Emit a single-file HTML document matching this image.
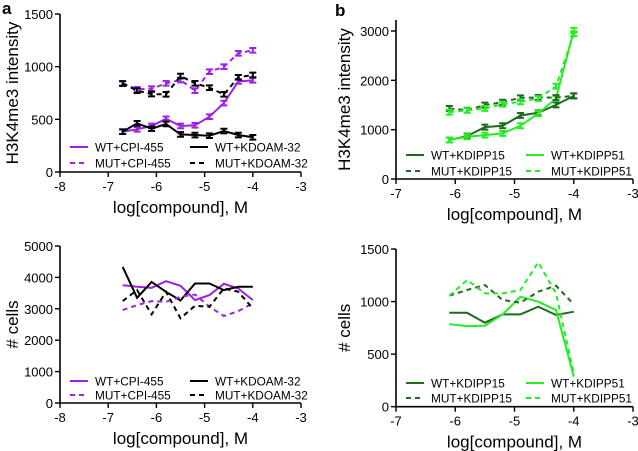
<!DOCTYPE html>
<html><head><meta charset="utf-8"><style>
body{margin:0;background:#fff;}
svg{display:block;font-family:"Liberation Sans",Arial,sans-serif;}
</style></head><body>
<svg id="fig" width="638" height="451" viewBox="0 0 638 451" xmlns="http://www.w3.org/2000/svg">
<text x="2" y="14" font-size="17" font-weight="bold">a</text>
<text x="335" y="16" font-size="17" font-weight="bold">b</text>
</svg>
<script>
// ---- data ----
const xA = [-6.7,-6.4,-6.1,-5.8,-5.5,-5.2,-4.9,-4.6,-4.3,-4.0];
const xB = [-6.1,-5.8,-5.5,-5.2,-4.9,-4.6,-4.3,-4.0];
const xTicksA = [-8,-7,-6,-5,-4,-3];
const xTicksB = [-7,-6,-5,-4,-3];
const yTicksA1 = [0,500,1000,1500];
const yTicksB1 = [0,1000,2000,3000];
const yTicksA2 = [0,1000,2000,3000,4000,5000];
const yTicksB2 = [0,500,1000,1500];
const a1WtCpi = [383,405,437,505,437,443,525,655,860,870];
const a1MutCpi = [842,785,791,842,873,772,952,1000,1127,1155];
const a1WtKd = [383,462,411,456,357,351,345,389,351,329];
const a1MutKd = [840,772,740,737,911,842,800,737,899,921];
const b1WtK15 = [789,870,1052,1079,1288,1342,1503,1685];
const b1MutK15 = [1430,1395,1497,1557,1645,1652,1650,1685];
const b1WtK51 = [790,856,890,924,1079,1328,1631,3013];
const b1MutK51 = [1355,1395,1430,1517,1564,1631,1881,2946];
const a2WtCpi = [3753,3700,3668,3879,3731,3277,3436,3795,3647,3277];
const a2MutCpi = [2960,3118,3245,3224,3383,3457,3066,2770,2928,3171];
const a2WtKd = [4334,3351,3858,3541,3266,3805,3805,3594,3700,3700];
const a2MutKd = [3245,3594,2822,3541,2696,3097,3066,3647,3541,3013];
const b2WtK15 = [894,894,799,878,878,951,872,904];
const b2MutK15 = [1056,1110,1158,1015,989,1094,1151,974];
const b2WtK51 = [786,767,770,878,1046,999,920,285];
const b2MutK51 = [1056,1205,1078,1078,1110,1373,1078,317];

const NS="http://www.w3.org/2000/svg";
const svg=document.getElementById('fig');
function mk(tag,attrs,parent){const e=document.createElementNS(NS,tag);for(const k in attrs)e.setAttribute(k,attrs[k]);(parent||svg).appendChild(e);return e;}

const PURPLE="#a020e8", DKG="#1d6b1d", LTG="#22ee22";

function chart(cfg){
  const g=mk('g',{});
  
  
  const sx=v=>cfg.x0+(v-cfg.xmin)/(cfg.xmax-cfg.xmin)*(cfg.x1-cfg.x0);
  const sy=v=>cfg.y0-(v-cfg.ymin)/(cfg.ymax-cfg.ymin)*(cfg.y0-cfg.y1);
  const ax=mk('path',{d:`M${cfg.x0},${cfg.y1}V${cfg.y0}H${cfg.x1}`,stroke:'#000','stroke-width':1.6,fill:'none'},g);
  
  
  cfg.xt.forEach(t=>{
    mk('line',{x1:sx(t),x2:sx(t),y1:cfg.y0,y2:cfg.y0+5,stroke:'#000','stroke-width':1.4},g);
    const tx=mk('text',{x:sx(t),y:cfg.y0+19,'font-size':13,'text-anchor':'middle'},g);
    tx.textContent=t;
    
    
  });
  cfg.yt.forEach(t=>{
    mk('line',{x1:cfg.x0-5,x2:cfg.x0,y1:sy(t),y2:sy(t),stroke:'#000','stroke-width':1.4},g);
    const tx=mk('text',{x:cfg.x0-7,y:sy(t)+5,'font-size':13,'text-anchor':'end'},g);
    tx.textContent=t;
    
    
  });
  const xl=mk('text',{x:(cfg.x0+cfg.x1)/2,y:cfg.y0+41,'font-size':17,'text-anchor':'middle'},g);
  xl.textContent='log[compound], M';
  
  
  const yl=mk('text',{x:0,y:0,'font-size':17,'text-anchor':'middle',transform:`translate(${cfg.ytx},${(cfg.y0+cfg.y1)/2}) rotate(-90)`},g);
  yl.textContent=cfg.ytitle;
  
  
  cfg.series.forEach(s=>{
    const d=s.y.map((v,i)=>(i?'L':'M')+sx(cfg.xs[i]).toFixed(1)+','+sy(v).toFixed(1)).join('');
    const p=mk('path',{d,stroke:s.c,'stroke-width':2,fill:'none','stroke-dasharray':s.dash?'5,4':'none'},g);
    
    
    if(cfg.err){
      s.y.forEach((v,i)=>{
        const X=sx(cfg.xs[i]),Y1=sy(v+cfg.err),Y2=sy(v-cfg.err);
        const e=mk('path',{d:`M${X-3.5},${Y1}H${X+3.5}M${X},${Y1}V${Y2}M${X-3.5},${Y2}H${X+3.5}`,stroke:s.c,'stroke-width':2,fill:'none'},g);
        
        
      });
    }
  });
  cfg.series.forEach((s,i)=>{
    const col=i%2? 1:0; const row=Math.floor(i/2);
    const lx=cfg.lx[col], ly=cfg.ly[row];
    const le=mk('g',{},g);
    
    
    mk('line',{x1:lx,x2:lx+18,y1:ly,y2:ly,stroke:s.c,'stroke-width':2,'stroke-dasharray':s.dash?'5,4':'none'},le);
    const t=mk('text',{x:lx+25,y:ly+4.5,'font-size':11.8},le);
    t.textContent=s.label;
  });
}
chart({name:'chart-a-h3k4me3',x0:60,x1:301,y0:172,y1:14,xmin:-8,xmax:-3,ymin:0,ymax:1500,xt:xTicksA,yt:yTicksA1,xs:xA,err:22,ytitle:'H3K4me3 intensity',ytx:18,
  lx:[70,190],ly:[147,163],
  series:[{id:'wt-cpi455',y:a1WtCpi,c:PURPLE,label:'WT+CPI-455'},{id:'wt-kdoam32',y:a1WtKd,c:'#000',label:'WT+KDOAM-32'},
          {id:'mut-cpi455',y:a1MutCpi,c:PURPLE,dash:1,label:'MUT+CPI-455'},{id:'mut-kdoam32',y:a1MutKd,c:'#000',dash:1,label:'MUT+KDOAM-32'}]});
chart({name:'chart-b-h3k4me3',x0:396,x1:633,y0:179,y1:20,xmin:-7,xmax:-3,ymin:0,ymax:3000*(179-20)/(179-31),xt:xTicksB,yt:yTicksB1,xs:xB,err:50,ytitle:'H3K4me3 intensity',ytx:350,
  lx:[406,526],ly:[155,171],
  series:[{id:'wt-kdipp15',y:b1WtK15,c:DKG,label:'WT+KDIPP15'},{id:'wt-kdipp51',y:b1WtK51,c:LTG,label:'WT+KDIPP51'},
          {id:'mut-kdipp15',y:b1MutK15,c:DKG,dash:1,label:'MUT+KDIPP15'},{id:'mut-kdipp51',y:b1MutK51,c:LTG,dash:1,label:'MUT+KDIPP51'}]});
chart({name:'chart-a-cells',x0:60,x1:301,y0:403,y1:246,xmin:-8,xmax:-3,ymin:0,ymax:5000,xt:xTicksA,yt:yTicksA2,xs:xA,ytitle:'# cells',ytx:18,
  lx:[70,190],ly:[381,395],
  series:[{id:'wt-cpi455',y:a2WtCpi,c:PURPLE,label:'WT+CPI-455'},{id:'wt-kdoam32',y:a2WtKd,c:'#000',label:'WT+KDOAM-32'},
          {id:'mut-cpi455',y:a2MutCpi,c:PURPLE,dash:1,label:'MUT+CPI-455'},{id:'mut-kdoam32',y:a2MutKd,c:'#000',dash:1,label:'MUT+KDOAM-32'}]});
chart({name:'chart-b-cells',x0:396,x1:633,y0:406.7,y1:249,xmin:-7,xmax:-3,ymin:0,ymax:1500,xt:xTicksB,yt:yTicksB2,xs:xB,ytitle:'# cells',ytx:350,
  lx:[406,526],ly:[383,398],
  series:[{id:'wt-kdipp15',y:b2WtK15,c:DKG,label:'WT+KDIPP15'},{id:'wt-kdipp51',y:b2WtK51,c:LTG,label:'WT+KDIPP51'},
          {id:'mut-kdipp15',y:b2MutK15,c:DKG,dash:1,label:'MUT+KDIPP15'},{id:'mut-kdipp51',y:b2MutK51,c:LTG,dash:1,label:'MUT+KDIPP51'}]});
</script>
</body></html>
